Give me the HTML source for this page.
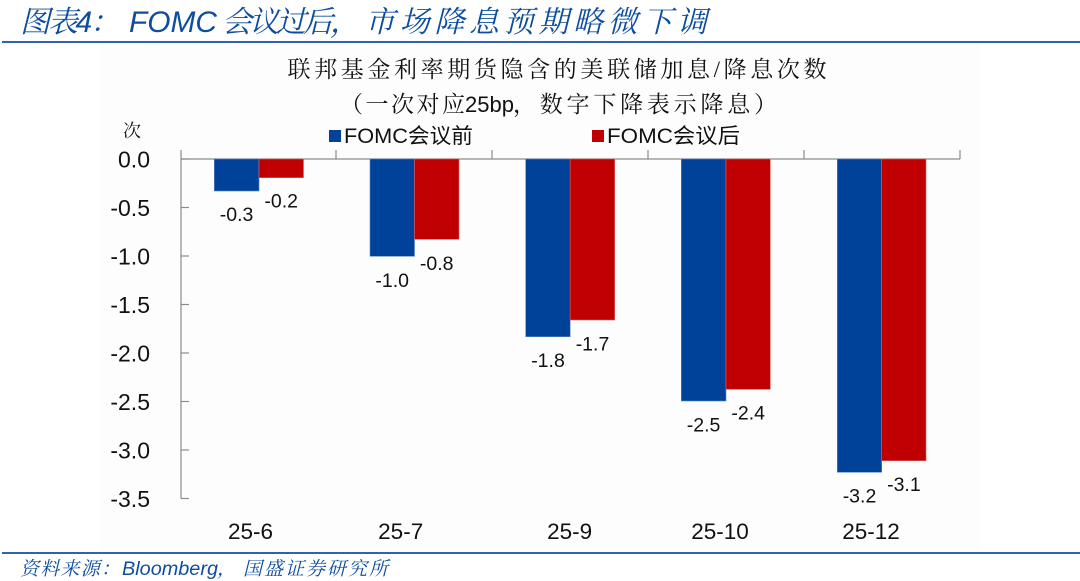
<!DOCTYPE html>
<html><head><meta charset="utf-8"><style>
html,body{margin:0;padding:0;background:#fff;}
svg{display:block;}
</style></head><body>
<svg width="1080" height="581" viewBox="0 0 1080 581" xmlns="http://www.w3.org/2000/svg">
<rect x="0" y="0" width="1080" height="581" fill="#ffffff"/>
<rect x="100" y="44" width="880" height="506" fill="#fdfdfd"/>
<!-- header -->
<g font-style="italic" font-size="30" fill="#0d4d9e">
<text x="20" y="32" font-family="'Liberation Sans','Noto Serif CJK SC',serif" textLength="100" lengthAdjust="spacing">图表4：</text>
<text x="129" y="32" font-family="'Liberation Sans',sans-serif" textLength="88" lengthAdjust="spacingAndGlyphs">FOMC</text>
<text x="222" y="32" font-family="'Noto Serif CJK SC',serif" textLength="138" lengthAdjust="spacing">会议过后，</text>
<text x="365" y="32" font-family="'Noto Serif CJK SC',serif" textLength="342" lengthAdjust="spacing">市场降息预期略微下调</text>
</g>
<rect x="2" y="41" width="1078" height="2" fill="#2f63b0"/>
<!-- chart title -->
<text x="557" y="77" text-anchor="middle" font-family="'Liberation Serif','Noto Serif CJK SC',serif" font-size="23" fill="#111" textLength="539" lengthAdjust="spacing">联邦基金利率期货隐含的美联储加息/降息次数</text>
<g font-size="23" fill="#111">
<text x="340" y="112" font-family="'Noto Serif CJK SC',serif" textLength="125" lengthAdjust="spacing">（一次对应</text>
<text x="465" y="112" font-family="'Liberation Sans',sans-serif" font-size="22">25bp</text>
<text x="513" y="112" font-family="'Noto Serif CJK SC',serif" textLength="264" lengthAdjust="spacing">，数字下降表示降息）</text>
</g>
<!-- legend -->
<rect x="329" y="130" width="12" height="12" fill="#004199"/>
<text x="344" y="143" font-family="'Liberation Sans','Noto Sans CJK SC',sans-serif" font-size="21" fill="#111" textLength="129" lengthAdjust="spacingAndGlyphs">FOMC会议前</text>
<rect x="592" y="130" width="12" height="12" fill="#c00000"/>
<text x="607" y="143" font-family="'Liberation Sans','Noto Sans CJK SC',sans-serif" font-size="21" fill="#111" textLength="133" lengthAdjust="spacingAndGlyphs">FOMC会议后</text>
<!-- y unit -->
<text x="132" y="137" text-anchor="middle" font-family="'Liberation Serif','Noto Serif CJK SC',serif" font-size="18" fill="#111">次</text>
<!-- axes -->
<g stroke="#8c8c8c" stroke-width="1.2" fill="none">
<line x1="181" y1="159" x2="181" y2="498.5"/>
<line x1="181" y1="159" x2="960" y2="159"/>
<line x1="181" y1="207.5" x2="189" y2="207.5"/>
<line x1="181" y1="256" x2="189" y2="256"/>
<line x1="181" y1="304.5" x2="189" y2="304.5"/>
<line x1="181" y1="353" x2="189" y2="353"/>
<line x1="181" y1="401.5" x2="189" y2="401.5"/>
<line x1="181" y1="450" x2="189" y2="450"/>
<line x1="181" y1="498.5" x2="189" y2="498.5"/>
<line x1="181" y1="159" x2="189" y2="159"/>
<line x1="181" y1="150" x2="181" y2="159"/>
<line x1="336" y1="150" x2="336" y2="159"/>
<line x1="492" y1="150" x2="492" y2="159"/>
<line x1="648" y1="150" x2="648" y2="159"/>
<line x1="804" y1="150" x2="804" y2="159"/>
<line x1="960" y1="150" x2="960" y2="159"/>
</g>
<!-- y labels -->
<g font-family="'Liberation Sans',sans-serif" font-size="23" fill="#111" text-anchor="end">
<text x="150" y="167.5">0.0</text>
<text x="150" y="216">-0.5</text>
<text x="150" y="264.5">-1.0</text>
<text x="150" y="313">-1.5</text>
<text x="150" y="361.5">-2.0</text>
<text x="150" y="410">-2.5</text>
<text x="150" y="458.5">-3.0</text>
<text x="150" y="507">-3.5</text>
</g>
<!-- bars -->
<g>
<rect x="214.3" y="159" width="44.7" height="32" fill="#004199" stroke="#5b86c8" stroke-width="0.6"/>
<rect x="259" y="159" width="44.5" height="18.7" fill="#c00000" stroke="#e06060" stroke-width="0.6"/>
<rect x="370" y="159" width="44.5" height="97.3" fill="#004199" stroke="#5b86c8" stroke-width="0.6"/>
<rect x="414.5" y="159" width="44.5" height="80.3" fill="#c00000" stroke="#e06060" stroke-width="0.6"/>
<rect x="525.7" y="159" width="44.5" height="177.7" fill="#004199" stroke="#5b86c8" stroke-width="0.6"/>
<rect x="570.2" y="159" width="44.5" height="161" fill="#c00000" stroke="#e06060" stroke-width="0.6"/>
<rect x="681.3" y="159" width="44.7" height="242" fill="#004199" stroke="#5b86c8" stroke-width="0.6"/>
<rect x="726" y="159" width="44.3" height="230.3" fill="#c00000" stroke="#e06060" stroke-width="0.6"/>
<rect x="837.3" y="159" width="44.4" height="313.3" fill="#004199" stroke="#5b86c8" stroke-width="0.6"/>
<rect x="881.7" y="159" width="44.3" height="301.7" fill="#c00000" stroke="#e06060" stroke-width="0.6"/>
</g>
<!-- data labels -->
<g font-family="'Liberation Sans',sans-serif" font-size="19.5" fill="#111" text-anchor="middle">
<text x="236.6" y="221">-0.3</text>
<text x="281.2" y="207.7">-0.2</text>
<text x="392.2" y="287">-1.0</text>
<text x="436.7" y="270">-0.8</text>
<text x="548" y="367">-1.8</text>
<text x="592.5" y="350.5">-1.7</text>
<text x="703.6" y="431.5">-2.5</text>
<text x="748.2" y="419.5">-2.4</text>
<text x="859.5" y="502.5">-3.2</text>
<text x="903.9" y="491">-3.1</text>
</g>
<!-- x labels -->
<g font-family="'Liberation Sans',sans-serif" font-size="22.5" fill="#111" text-anchor="middle">
<text x="250.5" y="539">25-6</text>
<text x="400.7" y="539">25-7</text>
<text x="569.6" y="539">25-9</text>
<text x="720" y="539">25-10</text>
<text x="871" y="539">25-12</text>
</g>
<!-- footer -->
<rect x="2" y="552" width="1078" height="2" fill="#2f63b0"/>
<g font-style="italic" font-size="19" fill="#0d4d9e">
<text x="20" y="575" font-family="'Noto Serif CJK SC',serif" textLength="100" lengthAdjust="spacing">资料来源：</text>
<text x="122" y="575" font-family="'Liberation Sans',sans-serif" textLength="96" lengthAdjust="spacingAndGlyphs">Bloomberg</text>
<text x="217" y="575" font-family="'Noto Serif CJK SC',serif">，</text>
<text x="243" y="575" font-family="'Noto Serif CJK SC',serif" textLength="145" lengthAdjust="spacing">国盛证券研究所</text>
</g>
</svg>
</body></html>
